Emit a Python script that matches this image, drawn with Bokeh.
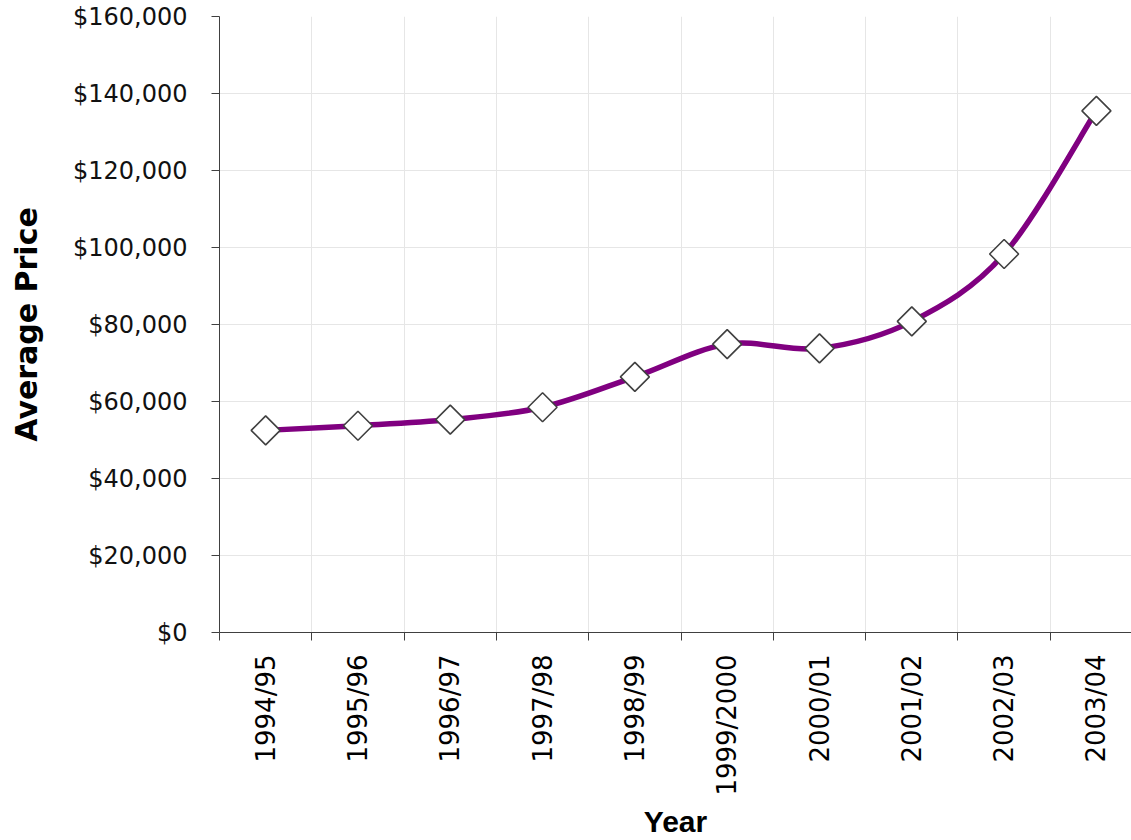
import numpy as np
from bokeh.plotting import figure
from bokeh.models import FixedTicker, NumeralTickFormatter, Range1d, ColumnDataSource
from bokeh.embed import file_html
from bokeh.resources import INLINE

years = ["1994/95", "1995/96", "1996/97", "1997/98", "1998/99",
         "1999/2000", "2000/01", "2001/02", "2002/03", "2003/04"]
avg_price = [52500, 53700, 55300, 58500, 66400, 74900, 73800, 80800, 98300, 135500]
y_ticks = [0, 20000, 40000, 60000, 80000, 100000, 120000, 140000, 160000]

xs = np.arange(len(years)) + 0.5
ys = np.array(avg_price, dtype=float)

# smooth curve (cardinal spline through the data points) as cubic bezier segments
n = len(xs)
px = np.concatenate([[xs[0]], xs, [xs[-1]]])
py = np.concatenate([[ys[0]], ys, [ys[-1]]])
seg = dict(x0=[], y0=[], x1=[], y1=[], cx0=[], cy0=[], cx1=[], cy1=[])
for i in range(n - 1):
    p0x, p0y = px[i], py[i]
    p1x, p1y = px[i + 1], py[i + 1]
    p2x, p2y = px[i + 2], py[i + 2]
    p3x, p3y = px[i + 3], py[i + 3]
    seg["x0"].append(p1x); seg["y0"].append(p1y)
    seg["x1"].append(p2x); seg["y1"].append(p2y)
    seg["cx0"].append(p1x + (p2x - p0x) / 6); seg["cy0"].append(p1y + (p2y - p0y) / 6)
    seg["cx1"].append(p2x - (p3x - p1x) / 6); seg["cy1"].append(p2y - (p3y - p1y) / 6)

p = figure(width=1131, height=840, output_backend="svg", toolbar_location=None,
           x_range=Range1d(0, 9.88), y_range=Range1d(0, 160000))
p.min_border_left = 219
p.min_border_right = 0
p.min_border_top = 16
p.min_border_bottom = 200
p.outline_line_color = None
p.background_fill_color = "white"
p.border_fill_color = "white"

p.bezier(x0="x0", y0="y0", x1="x1", y1="y1", cx0="cx0", cy0="cy0", cx1="cx1", cy1="cy1",
         source=ColumnDataSource(seg), line_color="#800080", line_width=5.5)
p.scatter(xs, ys, marker="square", angle=np.pi / 4, size=20.5,
          fill_color="white", line_color="#404040", line_width=1.6)

# x axis
xa = p.xaxis[0]
xa.ticker = FixedTicker(ticks=list(xs), minor_ticks=list(range(0, 11)))
xa.major_label_overrides = {float(x): lab for x, lab in zip(xs, years)}
xa.major_label_orientation = np.pi / 2
xa.major_tick_out = 0
xa.major_tick_in = 0
xa.minor_tick_out = 8
xa.minor_tick_in = 0
xa.minor_tick_line_color = "#404040"
xa.axis_line_color = "#404040"
xa.major_label_text_font = "DejaVu Sans"
xa.major_label_text_font_size = "26px"
xa.major_label_text_color = "black"
xa.major_label_standoff = 14
xa.axis_label = "Year"
xa.axis_label_text_font = "Liberation Sans"
xa.axis_label_text_font_style = "bold"
xa.axis_label_text_font_size = "30px"
xa.axis_label_text_color = "black"
xa.axis_label_standoff = 6

# y axis
ya = p.yaxis[0]
ya.ticker = FixedTicker(ticks=y_ticks)
ya.formatter = NumeralTickFormatter(format="$0,0")
ya.major_tick_out = 8
ya.major_tick_in = 0
ya.minor_tick_line_color = None
ya.major_tick_line_color = "#404040"
ya.axis_line_color = "#404040"
ya.major_label_text_font = "DejaVu Sans"
ya.major_label_text_font_size = "24px"
ya.major_label_text_color = "#111111"
ya.major_label_standoff = 24
ya.axis_label = "Average Price"
ya.axis_label_text_font = "DejaVu Sans"
ya.axis_label_text_font_style = "bold"
ya.axis_label_text_font_size = "30px"
ya.axis_label_text_color = "black"
ya.axis_label_standoff = 26

p.xgrid.grid_line_color = None
p.xgrid.minor_grid_line_color = "#e6e6e6"
p.xgrid.minor_grid_line_width = 1
p.ygrid.grid_line_color = "#e6e6e6"
p.ygrid.grid_line_width = 1

open("out.html", "w").write(file_html(p, INLINE))
